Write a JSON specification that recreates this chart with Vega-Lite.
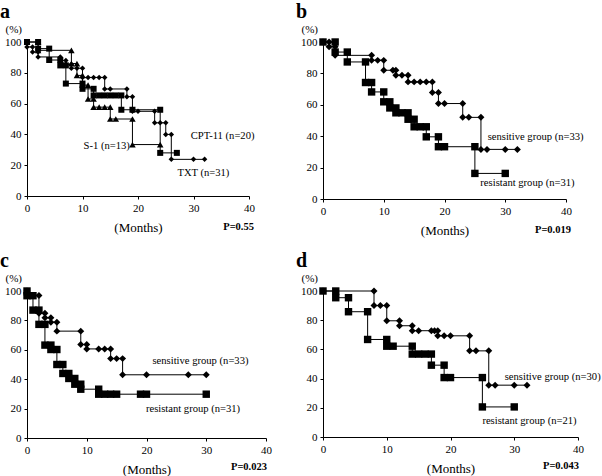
{
  "$schema": "https://vega.github.io/schema/vega-lite/v6.json",
  "padding": {"left": 0, "top": 2, "right": 0, "bottom": 0},
  "background": "white",
  "datasets": {
    "a": [
      {"g": "TXT", "t": 0, "s": 100}, {"g": "TXT", "t": 0, "s": 96.8}, {"g": "TXT", "t": 1, "s": 96.8}, {"g": "TXT", "t": 1, "s": 93.5},
      {"g": "TXT", "t": 2, "s": 93.5}, {"g": "TXT", "t": 2, "s": 90.3}, {"g": "TXT", "t": 6, "s": 90.3}, {"g": "TXT", "t": 6, "s": 88},
      {"g": "TXT", "t": 7, "s": 88}, {"g": "TXT", "t": 7, "s": 85.5}, {"g": "TXT", "t": 8, "s": 85.5}, {"g": "TXT", "t": 8, "s": 83},
      {"g": "TXT", "t": 9, "s": 83}, {"g": "TXT", "t": 10, "s": 83}, {"g": "TXT", "t": 10, "s": 77}, {"g": "TXT", "t": 11, "s": 77},
      {"g": "TXT", "t": 12, "s": 77}, {"g": "TXT", "t": 13, "s": 77}, {"g": "TXT", "t": 14, "s": 77}, {"g": "TXT", "t": 14, "s": 69.5},
      {"g": "TXT", "t": 15, "s": 69.5}, {"g": "TXT", "t": 18, "s": 69.5}, {"g": "TXT", "t": 18, "s": 64.5}, {"g": "TXT", "t": 19, "s": 64.5},
      {"g": "TXT", "t": 19, "s": 55}, {"g": "TXT", "t": 20, "s": 55}, {"g": "TXT", "t": 23, "s": 55}, {"g": "TXT", "t": 23, "s": 47.5},
      {"g": "TXT", "t": 24, "s": 47.5}, {"g": "TXT", "t": 25, "s": 47.5}, {"g": "TXT", "t": 25, "s": 40}, {"g": "TXT", "t": 26, "s": 40},
      {"g": "TXT", "t": 26, "s": 23.8}, {"g": "TXT", "t": 30, "s": 23.8}, {"g": "TXT", "t": 32, "s": 23.8},
      {"g": "CPT-11", "t": 0, "s": 100}, {"g": "CPT-11", "t": 2, "s": 100}, {"g": "CPT-11", "t": 2, "s": 95.7}, {"g": "CPT-11", "t": 4, "s": 95.7},
      {"g": "CPT-11", "t": 4, "s": 88.3}, {"g": "CPT-11", "t": 6, "s": 88.3}, {"g": "CPT-11", "t": 6, "s": 84.8}, {"g": "CPT-11", "t": 7, "s": 84.8},
      {"g": "CPT-11", "t": 7, "s": 73}, {"g": "CPT-11", "t": 10, "s": 73}, {"g": "CPT-11", "t": 10, "s": 69.6}, {"g": "CPT-11", "t": 12, "s": 69.6},
      {"g": "CPT-11", "t": 12, "s": 65.3}, {"g": "CPT-11", "t": 13, "s": 65.3}, {"g": "CPT-11", "t": 14, "s": 65.3}, {"g": "CPT-11", "t": 15, "s": 65.3},
      {"g": "CPT-11", "t": 16, "s": 65.3}, {"g": "CPT-11", "t": 17, "s": 65.3}, {"g": "CPT-11", "t": 17, "s": 56}, {"g": "CPT-11", "t": 19, "s": 56},
      {"g": "CPT-11", "t": 24, "s": 56}, {"g": "CPT-11", "t": 24, "s": 28}, {"g": "CPT-11", "t": 27, "s": 28},
      {"g": "S-1", "t": 0, "s": 100}, {"g": "S-1", "t": 2, "s": 100}, {"g": "S-1", "t": 2, "s": 94.6}, {"g": "S-1", "t": 8, "s": 94.6},
      {"g": "S-1", "t": 8, "s": 86}, {"g": "S-1", "t": 9, "s": 86}, {"g": "S-1", "t": 9, "s": 78.3}, {"g": "S-1", "t": 10, "s": 78.3},
      {"g": "S-1", "t": 10, "s": 72}, {"g": "S-1", "t": 11, "s": 72}, {"g": "S-1", "t": 11, "s": 63}, {"g": "S-1", "t": 12, "s": 63},
      {"g": "S-1", "t": 12, "s": 57.7}, {"g": "S-1", "t": 13, "s": 57.7}, {"g": "S-1", "t": 14, "s": 57.7}, {"g": "S-1", "t": 15, "s": 57.7},
      {"g": "S-1", "t": 15, "s": 50}, {"g": "S-1", "t": 16, "s": 50}, {"g": "S-1", "t": 19, "s": 50}, {"g": "S-1", "t": 19, "s": 33.4},
      {"g": "S-1", "t": 24, "s": 33.4}
    ],
    "b": [
      {"g": "sensitive", "t": 0, "s": 100}, {"g": "sensitive", "t": 1, "s": 100}, {"g": "sensitive", "t": 1, "s": 97}, {"g": "sensitive", "t": 2, "s": 97},
      {"g": "sensitive", "t": 2, "s": 91.5}, {"g": "sensitive", "t": 8, "s": 91.5}, {"g": "sensitive", "t": 8, "s": 88.3}, {"g": "sensitive", "t": 9, "s": 88.3},
      {"g": "sensitive", "t": 10, "s": 88.3}, {"g": "sensitive", "t": 10, "s": 82}, {"g": "sensitive", "t": 11.5, "s": 82}, {"g": "sensitive", "t": 12, "s": 82},
      {"g": "sensitive", "t": 12, "s": 78.8}, {"g": "sensitive", "t": 13, "s": 78.8}, {"g": "sensitive", "t": 14, "s": 78.8}, {"g": "sensitive", "t": 14, "s": 74.6},
      {"g": "sensitive", "t": 15, "s": 74.6}, {"g": "sensitive", "t": 16, "s": 74.6}, {"g": "sensitive", "t": 17, "s": 74.6}, {"g": "sensitive", "t": 18, "s": 74.6},
      {"g": "sensitive", "t": 18, "s": 67.8}, {"g": "sensitive", "t": 19, "s": 67.8}, {"g": "sensitive", "t": 19, "s": 60.8}, {"g": "sensitive", "t": 20, "s": 60.8},
      {"g": "sensitive", "t": 23, "s": 60.8}, {"g": "sensitive", "t": 23, "s": 52}, {"g": "sensitive", "t": 24, "s": 52}, {"g": "sensitive", "t": 26, "s": 52},
      {"g": "sensitive", "t": 26, "s": 31.6}, {"g": "sensitive", "t": 27, "s": 31.6}, {"g": "sensitive", "t": 30, "s": 31.6}, {"g": "sensitive", "t": 32, "s": 31.6},
      {"g": "resistant", "t": 0, "s": 100}, {"g": "resistant", "t": 2, "s": 100}, {"g": "resistant", "t": 2, "s": 93.6}, {"g": "resistant", "t": 4, "s": 93.6},
      {"g": "resistant", "t": 4, "s": 87.3}, {"g": "resistant", "t": 7, "s": 87.3}, {"g": "resistant", "t": 7, "s": 74.2}, {"g": "resistant", "t": 8, "s": 74.2},
      {"g": "resistant", "t": 8, "s": 68.2}, {"g": "resistant", "t": 10, "s": 68.2}, {"g": "resistant", "t": 10, "s": 61.9}, {"g": "resistant", "t": 11, "s": 61.9},
      {"g": "resistant", "t": 11, "s": 58}, {"g": "resistant", "t": 12, "s": 58}, {"g": "resistant", "t": 12, "s": 54.9}, {"g": "resistant", "t": 13, "s": 54.9},
      {"g": "resistant", "t": 14, "s": 54.9}, {"g": "resistant", "t": 14, "s": 50.8}, {"g": "resistant", "t": 15, "s": 50.8}, {"g": "resistant", "t": 15, "s": 46},
      {"g": "resistant", "t": 16, "s": 46}, {"g": "resistant", "t": 17, "s": 46}, {"g": "resistant", "t": 17, "s": 39.6}, {"g": "resistant", "t": 19, "s": 39.6},
      {"g": "resistant", "t": 19, "s": 33.3}, {"g": "resistant", "t": 20, "s": 33.3}, {"g": "resistant", "t": 25, "s": 33.3}, {"g": "resistant", "t": 25, "s": 16.3},
      {"g": "resistant", "t": 30, "s": 16.3}
    ],
    "c": [
      {"g": "sensitive", "t": 0, "s": 100}, {"g": "sensitive", "t": 0, "s": 97}, {"g": "sensitive", "t": 2, "s": 97}, {"g": "sensitive", "t": 2, "s": 84.8},
      {"g": "sensitive", "t": 3, "s": 84.8}, {"g": "sensitive", "t": 3, "s": 81.8}, {"g": "sensitive", "t": 4, "s": 81.8}, {"g": "sensitive", "t": 4, "s": 78.8},
      {"g": "sensitive", "t": 5, "s": 78.8}, {"g": "sensitive", "t": 5, "s": 72.7}, {"g": "sensitive", "t": 9, "s": 72.7}, {"g": "sensitive", "t": 9, "s": 63.6},
      {"g": "sensitive", "t": 10, "s": 63.6}, {"g": "sensitive", "t": 10, "s": 60.6}, {"g": "sensitive", "t": 12, "s": 60.6}, {"g": "sensitive", "t": 13, "s": 60.6},
      {"g": "sensitive", "t": 14, "s": 60.6}, {"g": "sensitive", "t": 14, "s": 54}, {"g": "sensitive", "t": 15, "s": 54}, {"g": "sensitive", "t": 16, "s": 54},
      {"g": "sensitive", "t": 16, "s": 43}, {"g": "sensitive", "t": 20, "s": 43}, {"g": "sensitive", "t": 27, "s": 43}, {"g": "sensitive", "t": 30, "s": 43},
      {"g": "resistant", "t": 0, "s": 100}, {"g": "resistant", "t": 0, "s": 96.8}, {"g": "resistant", "t": 1, "s": 96.8}, {"g": "resistant", "t": 1, "s": 87},
      {"g": "resistant", "t": 2, "s": 87}, {"g": "resistant", "t": 2, "s": 77.3}, {"g": "resistant", "t": 3, "s": 77.3}, {"g": "resistant", "t": 3, "s": 63.2},
      {"g": "resistant", "t": 4, "s": 63.2}, {"g": "resistant", "t": 4, "s": 60.2}, {"g": "resistant", "t": 5, "s": 60.2}, {"g": "resistant", "t": 5, "s": 50},
      {"g": "resistant", "t": 6, "s": 50}, {"g": "resistant", "t": 6, "s": 43.9}, {"g": "resistant", "t": 7, "s": 43.9}, {"g": "resistant", "t": 7, "s": 40.5},
      {"g": "resistant", "t": 8, "s": 40.5}, {"g": "resistant", "t": 8, "s": 36.6}, {"g": "resistant", "t": 9, "s": 36.6}, {"g": "resistant", "t": 9, "s": 33.2},
      {"g": "resistant", "t": 12, "s": 33.2}, {"g": "resistant", "t": 12, "s": 29.8}, {"g": "resistant", "t": 13, "s": 29.8}, {"g": "resistant", "t": 14, "s": 29.8},
      {"g": "resistant", "t": 15, "s": 29.8}, {"g": "resistant", "t": 19, "s": 29.8}, {"g": "resistant", "t": 20, "s": 29.8}, {"g": "resistant", "t": 30, "s": 29.8}
    ],
    "d": [
      {"g": "sensitive", "t": 0, "s": 100}, {"g": "sensitive", "t": 8, "s": 100}, {"g": "sensitive", "t": 8, "s": 90}, {"g": "sensitive", "t": 9, "s": 90},
      {"g": "sensitive", "t": 10, "s": 90}, {"g": "sensitive", "t": 10, "s": 79.6}, {"g": "sensitive", "t": 12, "s": 79.6}, {"g": "sensitive", "t": 12, "s": 76.2},
      {"g": "sensitive", "t": 14, "s": 76.2}, {"g": "sensitive", "t": 14, "s": 72.8}, {"g": "sensitive", "t": 15, "s": 72.8}, {"g": "sensitive", "t": 17, "s": 72.8},
      {"g": "sensitive", "t": 17.5, "s": 72.8}, {"g": "sensitive", "t": 18, "s": 72.8}, {"g": "sensitive", "t": 18, "s": 69.3}, {"g": "sensitive", "t": 19, "s": 69.3},
      {"g": "sensitive", "t": 20, "s": 69.3}, {"g": "sensitive", "t": 23, "s": 69.3}, {"g": "sensitive", "t": 23, "s": 59}, {"g": "sensitive", "t": 24, "s": 59},
      {"g": "sensitive", "t": 26, "s": 59}, {"g": "sensitive", "t": 26, "s": 35.5}, {"g": "sensitive", "t": 27, "s": 35.5}, {"g": "sensitive", "t": 30, "s": 35.5},
      {"g": "sensitive", "t": 32, "s": 35.5},
      {"g": "resistant", "t": 0, "s": 100}, {"g": "resistant", "t": 2, "s": 100}, {"g": "resistant", "t": 2, "s": 95.4}, {"g": "resistant", "t": 4, "s": 95.4},
      {"g": "resistant", "t": 4, "s": 85.8}, {"g": "resistant", "t": 7, "s": 85.8}, {"g": "resistant", "t": 7, "s": 66.8}, {"g": "resistant", "t": 10, "s": 66.8},
      {"g": "resistant", "t": 10, "s": 62.2}, {"g": "resistant", "t": 11, "s": 62.2}, {"g": "resistant", "t": 14, "s": 62.2}, {"g": "resistant", "t": 14, "s": 56.8},
      {"g": "resistant", "t": 15, "s": 56.8}, {"g": "resistant", "t": 16, "s": 56.8}, {"g": "resistant", "t": 17, "s": 56.8}, {"g": "resistant", "t": 17, "s": 49.2},
      {"g": "resistant", "t": 19, "s": 49.2}, {"g": "resistant", "t": 19, "s": 40.7}, {"g": "resistant", "t": 20, "s": 40.7}, {"g": "resistant", "t": 25, "s": 40.7},
      {"g": "resistant", "t": 25, "s": 20.6}, {"g": "resistant", "t": 30, "s": 20.6}
    ]
  },
  "vconcat": [
    {
      "hconcat": [
        {
          "title": {"text": "a", "anchor": "start", "dx": -27},
          "width": 222, "height": 154,
          "encoding": {
            "x": {"field": "t", "type": "quantitative", "scale": {"domain": [0, 40], "nice": false}, "axis": {"title": "(Months)", "values": [0, 10, 20, 30, 40], "labelOverlap": false}},
            "y": {"field": "s", "type": "quantitative", "scale": {"domain": [0, 100], "nice": false}, "axis": {"title": "(%)", "values": [0, 20, 40, 60, 80, 100], "labelOverlap": false}}
          },
          "layer": [
            {"data": {"name": "a"}, "mark": {"type": "line", "color": "black", "strokeWidth": 1},
             "encoding": {"detail": {"field": "g"}, "order": [{"field": "t", "type": "quantitative"}, {"field": "s", "type": "quantitative", "sort": "descending"}]}},
            {"data": {"name": "a"}, "mark": {"type": "point", "filled": true, "color": "black", "opacity": 1},
             "encoding": {"shape": {"field": "g", "type": "nominal", "scale": {"domain": ["TXT", "CPT-11", "S-1", "sensitive", "resistant"], "range": ["diamond", "square", "triangle-up", "diamond", "square"]}, "legend": null},
                          "size": {"field": "g", "type": "nominal", "scale": {"domain": ["TXT", "CPT-11", "S-1", "sensitive", "resistant"], "range": [30, 55, 45, 30, 55]}, "legend": null}}},
            {"data": {"values": [{"label": "CPT-11 (n=20)", "t": 29.5, "s": 39}, {"label": "S-1 (n=13)", "t": 10.2, "s": 32.5}, {"label": "TXT (n=31)", "t": 27.1, "s": 15}]},
             "mark": {"type": "text", "align": "left", "baseline": "middle", "fontSize": 10.6},
             "encoding": {"text": {"field": "label"}}},
            {"data": {"values": [{"label": "P=0.55", "t": 40, "s": -20}]},
             "mark": {"type": "text", "align": "right", "baseline": "middle", "fontSize": 10.5, "fontWeight": "bold", "dx": 5},
             "encoding": {"text": {"field": "label"}}}
          ]
        },
        {
          "title": {"text": "b", "anchor": "start", "dx": -27},
          "width": 243, "height": 157,
          "encoding": {
            "x": {"field": "t", "type": "quantitative", "scale": {"domain": [0, 40], "nice": false}, "axis": {"title": "(Months)", "values": [0, 10, 20, 30, 40], "labelOverlap": false}},
            "y": {"field": "s", "type": "quantitative", "scale": {"domain": [0, 100], "nice": false}, "axis": {"title": "(%)", "values": [0, 20, 40, 60, 80, 100], "labelOverlap": false}}
          },
          "layer": [
            {"data": {"name": "b"}, "mark": {"type": "line", "color": "black", "strokeWidth": 1},
             "encoding": {"detail": {"field": "g"}, "order": [{"field": "t", "type": "quantitative"}, {"field": "s", "type": "quantitative", "sort": "descending"}]}},
            {"data": {"name": "b"}, "mark": {"type": "point", "filled": true, "color": "black", "opacity": 1},
             "encoding": {"shape": {"field": "g", "type": "nominal", "scale": {"domain": ["TXT", "CPT-11", "S-1", "sensitive", "resistant"], "range": ["diamond", "square", "triangle-up", "diamond", "square"]}, "legend": null},
                          "size": {"field": "g", "type": "nominal", "scale": {"domain": ["TXT", "CPT-11", "S-1", "sensitive", "resistant"], "range": [30, 55, 45, 30, 55]}, "legend": null}}},
            {"data": {"values": [{"label": "sensitive group (n=33)", "t": 27.1, "s": 39.6}, {"label": "resistant group (n=31)", "t": 25.9, "s": 9.9}]},
             "mark": {"type": "text", "align": "left", "baseline": "middle", "fontSize": 10.6},
             "encoding": {"text": {"field": "label"}}},
            {"data": {"values": [{"label": "P=0.019", "t": 40, "s": -20}]},
             "mark": {"type": "text", "align": "right", "baseline": "middle", "fontSize": 10.5, "fontWeight": "bold", "dx": 5},
             "encoding": {"text": {"field": "label"}}}
          ]
        }
      ],
      "spacing": 41
    },
    {
      "hconcat": [
        {
          "title": {"text": "c", "anchor": "start", "dx": -27},
          "width": 239, "height": 147,
          "encoding": {
            "x": {"field": "t", "type": "quantitative", "scale": {"domain": [0, 40], "nice": false}, "axis": {"title": "(Months)", "values": [0, 10, 20, 30, 40], "labelOverlap": false}},
            "y": {"field": "s", "type": "quantitative", "scale": {"domain": [0, 100], "nice": false}, "axis": {"title": "(%)", "values": [0, 20, 40, 60, 80, 100], "labelOverlap": false}}
          },
          "layer": [
            {"data": {"name": "c"}, "mark": {"type": "line", "color": "black", "strokeWidth": 1},
             "encoding": {"detail": {"field": "g"}, "order": [{"field": "t", "type": "quantitative"}, {"field": "s", "type": "quantitative", "sort": "descending"}]}},
            {"data": {"name": "c"}, "mark": {"type": "point", "filled": true, "color": "black", "opacity": 1},
             "encoding": {"shape": {"field": "g", "type": "nominal", "scale": {"domain": ["TXT", "CPT-11", "S-1", "sensitive", "resistant"], "range": ["diamond", "square", "triangle-up", "diamond", "square"]}, "legend": null},
                          "size": {"field": "g", "type": "nominal", "scale": {"domain": ["TXT", "CPT-11", "S-1", "sensitive", "resistant"], "range": [30, 55, 45, 30, 55]}, "legend": null}}},
            {"data": {"values": [{"label": "sensitive group (n=33)", "t": 21, "s": 52.2}, {"label": "resistant group (n=31)", "t": 19.9, "s": 19.5}]},
             "mark": {"type": "text", "align": "left", "baseline": "middle", "fontSize": 10.6},
             "encoding": {"text": {"field": "label"}}},
            {"data": {"values": [{"label": "P=0.023", "t": 40, "s": -20}]},
             "mark": {"type": "text", "align": "right", "baseline": "middle", "fontSize": 10.5, "fontWeight": "bold", "dx": 1},
             "encoding": {"text": {"field": "label"}}}
          ]
        },
        {
          "title": {"text": "d", "anchor": "start", "dx": -27},
          "width": 255, "height": 146,
          "encoding": {
            "x": {"field": "t", "type": "quantitative", "scale": {"domain": [0, 40], "nice": false}, "axis": {"title": "(Months)", "values": [0, 10, 20, 30, 40], "labelOverlap": false}},
            "y": {"field": "s", "type": "quantitative", "scale": {"domain": [0, 100], "nice": false}, "axis": {"title": "(%)", "values": [0, 20, 40, 60, 80, 100], "labelOverlap": false}}
          },
          "layer": [
            {"data": {"name": "d"}, "mark": {"type": "line", "color": "black", "strokeWidth": 1},
             "encoding": {"detail": {"field": "g"}, "order": [{"field": "t", "type": "quantitative"}, {"field": "s", "type": "quantitative", "sort": "descending"}]}},
            {"data": {"name": "d"}, "mark": {"type": "point", "filled": true, "color": "black", "opacity": 1},
             "encoding": {"shape": {"field": "g", "type": "nominal", "scale": {"domain": ["TXT", "CPT-11", "S-1", "sensitive", "resistant"], "range": ["diamond", "square", "triangle-up", "diamond", "square"]}, "legend": null},
                          "size": {"field": "g", "type": "nominal", "scale": {"domain": ["TXT", "CPT-11", "S-1", "sensitive", "resistant"], "range": [30, 55, 45, 30, 55]}, "legend": null}}},
            {"data": {"values": [{"label": "sensitive group (n=30)", "t": 28.5, "s": 41.2}, {"label": "resistant group (n=21)", "t": 25, "s": 10.8}]},
             "mark": {"type": "text", "align": "left", "baseline": "middle", "fontSize": 10.6},
             "encoding": {"text": {"field": "label"}}},
            {"data": {"values": [{"label": "P=0.043", "t": 40, "s": -20}]},
             "mark": {"type": "text", "align": "right", "baseline": "middle", "fontSize": 10.5, "fontWeight": "bold", "dx": 1},
             "encoding": {"text": {"field": "label"}}}
          ]
        }
      ],
      "spacing": 24
    }
  ],
  "spacing": 14,
  "resolve": {"scale": {"x": "independent", "y": "independent"}},
  "config": {
    "font": "Liberation Serif",
    "view": {"stroke": null},
    "text": {"font": "Liberation Serif", "color": "black"},
    "title": {"font": "Liberation Serif", "fontSize": 20, "fontWeight": "bold", "color": "black", "offset": 1, "frame": "group"},
    "axis": {
      "grid": false, "domainColor": "black", "domainWidth": 1, "tickColor": "black", "tickSize": 3, "tickWidth": 1,
      "labelFont": "Liberation Serif", "labelFontSize": 11, "labelColor": "black", "labelPadding": 3, "labelOverlap": false,
      "titleFont": "Liberation Serif", "titleFontWeight": "normal", "titleColor": "black"
    },
    "axisX": {"titleFontSize": 13, "titlePadding": 8, "labelFlush": false},
    "axisY": {"titleFontSize": 11, "titleAngle": 0, "titleAlign": "left", "titleBaseline": "bottom", "titleX": -22, "titleY": -8, "labelFlush": false}
  }
}
